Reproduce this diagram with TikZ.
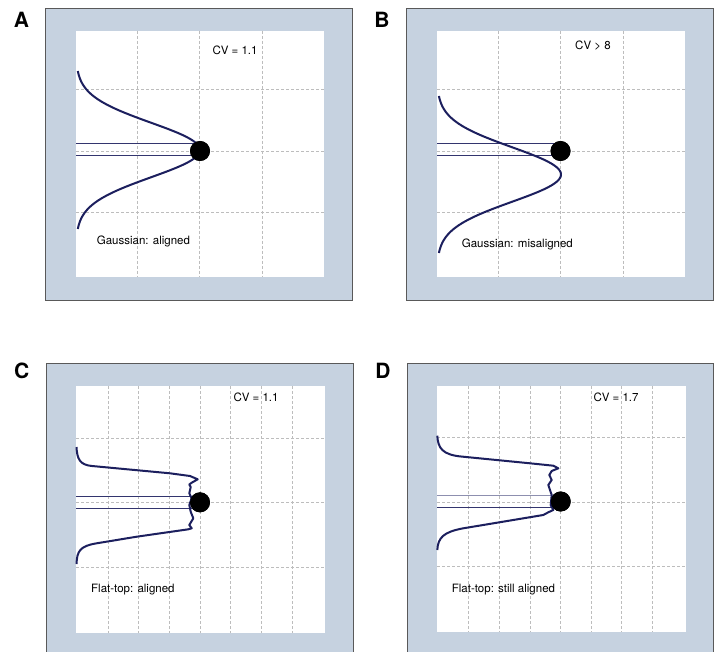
\documentclass[tikz,border=0pt]{standalone}
\usepackage{fontspec}
\setmainfont{TeX Gyre Heros}
\definecolor{frame}{HTML}{C6D2E0}
\definecolor{navy}{HTML}{1C1F5E}
\definecolor{gridgray}{HTML}{BDBDBD}

\begin{document}
\begin{tikzpicture}[x=1pt,y=-1pt,
    panel/.style={fill=frame},
    rim/.style={draw=black!65,line width=1pt},
    gridline/.style={gridgray,line width=0.8pt,dash pattern=on 3pt off 2pt},
    profile/.style={navy,line width=2pt,line join=round},
    levelline/.style={navy!90,line width=1pt},
    spot/.style={circle,fill=black,minimum size=20pt,inner sep=0pt},
    tag/.style={font=\bfseries\fontsize{21}{21}\selectfont},
    note/.style={font=\fontsize{11.5}{12}\selectfont,anchor=base west,inner sep=0pt}]
  \useasboundingbox (0,0) rectangle (717,652);

  % frames
  \fill[panel] (45,8.5) rectangle (352,300);
  \draw[rim] (45,8.5) rectangle (352,300);
  \fill[panel] (406,8.5) rectangle (713,300);
  \draw[rim] (406,8.5) rectangle (713,300);
  \fill[panel] (46,363) rectangle (353,652);
  \draw[rim] (46,652) -- (46,363) -- (353,363) -- (353,652);
  \fill[panel] (407,363) rectangle (713,652);
  \draw[rim] (407,652) -- (407,363) -- (713,363) -- (713,652);
  \fill[white] (76,31) rectangle (324,277);
  \fill[white] (437,31) rectangle (685,277);
  \fill[white] (76,386) rectangle (325,633);
  \fill[white] (437,386) rectangle (686,632);

  % grids
  \foreach \g in {137,199,262} \draw[gridline] (\g,31) -- (\g,277);
  \foreach \g in {498,560,623} \draw[gridline] (\g,31) -- (\g,277);
  \foreach \g in {89,151,212}
  {
    \draw[gridline] (76,\g) -- (324,\g);
    \draw[gridline] (437,\g) -- (685,\g);
  }
  \foreach \g in {108,138,169,200,230,261,292} \draw[gridline] (\g,386) -- (\g,633);
  \foreach \g in {468,499,530,560,591,621,652} \draw[gridline] (\g,386) -- (\g,632);
  \foreach \g in {438,502,567} \draw[gridline] (76,\g) -- (325,\g);
  \foreach \g in {437,502,566} \draw[gridline] (437,\g) -- (686,\g);

  % panel labels
  \node[tag] (labA) at (21.5,20) {A};
  \node[tag] (labB) at (382,20) {B};
  \node[tag] (labC) at (21.7,371) {C};
  \node[tag] (labD) at (383,371) {D};

  % A
  \node[spot] (dotA) at (200,151) {};
  \coordinate (upA) at (76,144);
  \coordinate (loA) at (76,156);
  \draw[levelline] (upA) -- (upA -| dotA);
  \draw[levelline] (loA) -- (loA -| dotA);
  \draw[profile] plot[domain=-79:79,samples=80] ({76+124*exp(-\x*\x/1480)},{150+\x});
  \node[spot] at (dotA) {};
  \node[note] (cvA) at (212.3,55) {CV = 1.1};
  \node[note] (txtA) at (96.7,244.5) {Gaussian: aligned};

  % B
  \node[spot] (dotB) at (560.5,151) {};
  \coordinate (upB) at (437,144);
  \coordinate (loB) at (437,156);
  \draw[levelline] (upB) -- (upB -| dotB);
  \draw[levelline] (loB) -- (loB -| dotB);
  \draw[profile] plot[domain=-78.5:78.5,samples=80] ({437+124*exp(-\x*\x/1480)},{174.5+\x});
  \node[spot] at (dotB) {};
  \node[note] (cvB) at (575,49.3) {CV > 8};
  \node[note] (txtB) at (461.7,247.5) {Gaussian: misaligned};

  % C
  \node[spot] (dotC) at (200,502.3) {};
  \coordinate (upC) at (76,496.7);
  \coordinate (loC) at (76,508.3);
  \draw[levelline] (upC) -- (upC -| dotC);
  \draw[levelline] (loC) -- (loC -| dotC);
  \draw[profile] (76.5,447) .. controls (77,459) and (80,465) .. (92,466) -- (170,473.3)
    -- (190,476) -- (197.7,479.3) -- (191.7,482.7) -- (189.3,484.5) -- (190.7,487)
    -- (189.3,493.3) -- (191.7,498.3) -- (189.3,505) -- (190.7,511.7) -- (193.3,518.3)
    -- (189.3,525) -- (191.7,528.3) -- (188.3,529.3) -- (136.7,536.7) -- (96.7,543.3)
    .. controls (80,546) and (77,551) .. (76.5,564);
  \node[spot] at (dotC) {};
  \node[note] (cvC) at (233.3,401.5) {CV = 1.1};
  \node[note] (txtC) at (91,592.5) {Flat-top: aligned};

  % D
  \node[spot] (dotD) at (560.7,501.5) {};
  \coordinate (upD) at (437,495.7);
  \coordinate (loD) at (437,507.3);
  \draw[levelline,draw=navy!50] (upD) -- (upD -| dotD);
  \draw[levelline] (loD) -- (loD -| dotD);
  \draw[profile] (437.3,435.7) .. controls (438,448) and (442,455) .. (463,456.7) -- (530,463.3)
    -- (553.3,465.7) -- (558.3,468.3) -- (551.7,471) -- (549.3,475) -- (551.7,480)
    -- (548.3,485) -- (550,490) -- (551.7,495) -- (550.7,505) -- (553.3,510)
    -- (548.3,512.3) -- (543.3,515) -- (463.3,528.3)
    .. controls (443,532) and (438,538) .. (437.3,550);
  \node[spot] at (dotD) {};
  \node[note] (cvD) at (593.3,401) {CV = 1.7};
  \node[note] (txtD) at (451.7,592.5) {Flat-top: still aligned};
\end{tikzpicture}
\end{document}
